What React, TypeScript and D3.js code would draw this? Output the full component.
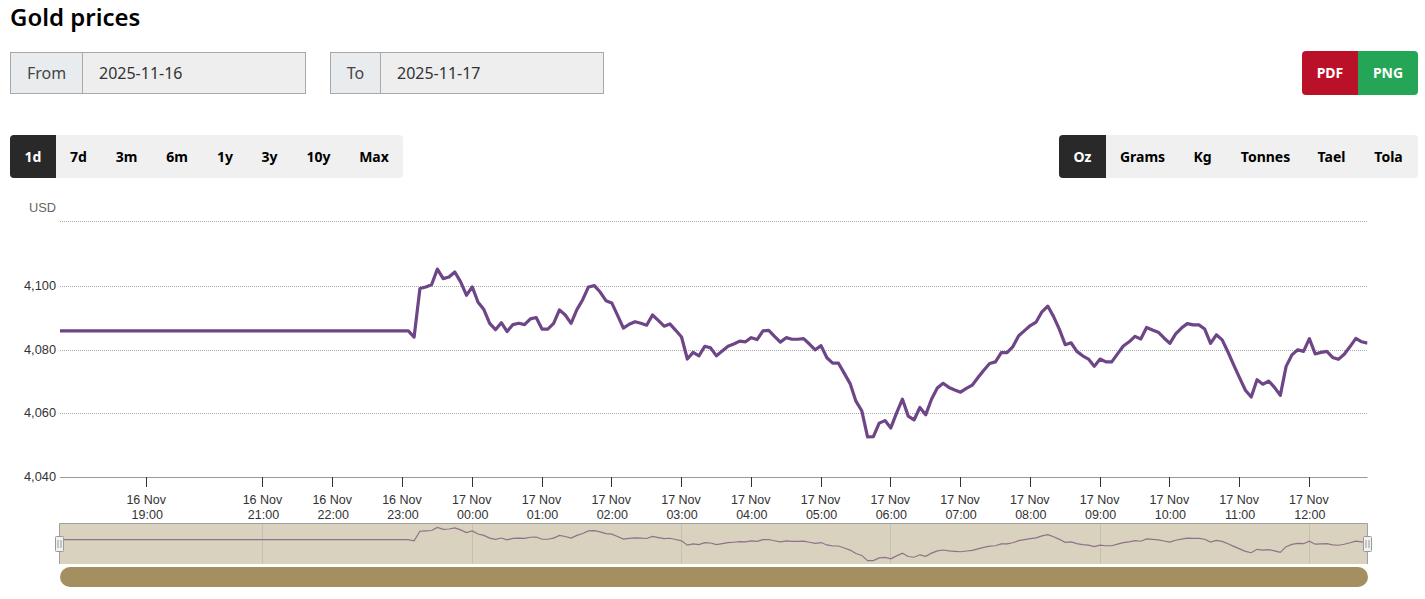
import React from "react";
import * as d3 from "d3";

const W = 1425, H = 599;
const UI_FONT = "'Noto Sans', sans-serif";
const CHART_FONT = "'Liberation Sans', Arial, sans-serif";

// Trading sessions, in minutes after 16 Nov 00:00; the axis is ordinal, so gaps collapse.
const sessions: [number, number][] = [[1065, 1165], [1190, 2210]];
const times: number[] = sessions.flatMap(([a, b]) => d3.range(a, b + 1, 5));

const closedValues = [
  4086, 4086, 4086, 4086, 4086, 4086, 4086, 4086, 4086, 4086, 4086, 4086, 4086, 4086, 4086, 4086,
  4086, 4086, 4086, 4086, 4086, 4086, 4086, 4086, 4086, 4086, 4086, 4086, 4086, 4086, 4086, 4086,
  4086, 4086, 4086, 4086, 4086, 4086, 4086, 4086, 4086, 4086, 4086, 4086, 4086, 4086, 4086, 4086,
  4086, 4086, 4086, 4086, 4086, 4086, 4086, 4086, 4086, 4086, 4086, 4086, 4086,
];
const openValues = [
  4084.1, 4099.3, 4099.8, 4100.5, 4105.4, 4102.4, 4102.9, 4104.5, 4101.4, 4097.2,
  4099.8, 4095.0, 4092.7, 4088.4, 4086.4, 4088.6, 4085.8, 4088.0, 4088.4, 4088.0, 4089.8, 4090.2,
  4086.6, 4086.6, 4088.4, 4092.6, 4091.0, 4088.4, 4092.7, 4095.8, 4099.8, 4100.2, 4098.2, 4095.5,
  4094.8, 4090.9, 4086.9, 4088.1, 4088.9, 4088.4, 4087.8, 4091.0, 4089.3, 4087.5, 4088.2, 4086.2,
  4084.1, 4077.2, 4079.3, 4078.2, 4081.2, 4080.7, 4078.2, 4079.7, 4081.2, 4081.9, 4082.8, 4082.6,
  4083.9, 4083.3, 4086.0, 4086.2, 4084.3, 4082.5, 4083.9, 4083.4, 4083.4, 4083.6, 4081.9, 4080.1,
  4081.4, 4077.6, 4075.9, 4075.9, 4072.7, 4069.5, 4064.0, 4061.0, 4052.8, 4052.9, 4057.1, 4057.9,
  4055.6, 4060.3, 4064.6, 4059.3, 4058.1, 4062.0, 4059.7, 4064.6, 4068.1, 4069.6, 4068.3, 4067.5,
  4066.8, 4068.0, 4069.0, 4071.4, 4073.7, 4075.8, 4076.3, 4079.2, 4079.2, 4081.1, 4084.5, 4086.1,
  4087.7, 4088.8, 4092.0, 4093.8, 4090.5, 4086.5, 4081.7, 4082.3, 4079.6, 4078.2, 4077.2, 4074.9,
  4077.2, 4076.3, 4076.3, 4078.8, 4081.3, 4082.6, 4084.3, 4083.5, 4087.1, 4086.3, 4085.6, 4083.8,
  4082.1, 4085.1, 4086.9, 4088.3, 4087.9, 4087.9, 4086.6, 4082.1, 4084.8, 4083.2, 4079.4, 4075.3,
  4071.3, 4067.4, 4065.3, 4070.7, 4069.3, 4070.3, 4068.3, 4065.8, 4074.9, 4078.5, 4080.1, 4079.6,
  4083.6, 4078.8, 4079.3, 4079.6, 4077.7, 4077.1, 4078.7, 4081.1, 4083.7, 4082.6, 4082.2,
];
const prices = [...closedValues, ...openValues];

const yGrid = [4060, 4080, 4100];
const yTopGrid = 4120;
const yLabels = [4040, 4060, 4080, 4100];
const xTickTimes = [1140, 1260, 1320, 1380, 1440, 1500, 1560, 1620, 1680, 1740, 1800, 1860, 1920, 1980, 2040, 2100, 2160];
const navTickTimes = [1260, 1440, 1620, 1800, 1980, 2160];
const rangeButtons = ["1d", "7d", "3m", "6m", "1y", "3y", "10y", "Max"];
const unitButtons = ["Oz", "Grams", "Kg", "Tonnes", "Tael", "Tola"];

const x = d3.scalePoint<number>().domain(times).range([59.5, 1367.5]);
const y = d3.scaleLinear().domain([4040, 4120]).range([477.7, 222.5]);
const yNav = d3.scaleLinear().domain([4052.8, 4105.4]).range([560.6, 527.4]);
const snap = (v: number) => Math.floor(v) + 0.5;

const points = times.map((t, i) => ({ t, v: prices[i] }));
const mainLine = d3.line<{ t: number; v: number }>().x(d => x(d.t)!).y(d => y(d.v));
const navLine = d3.line<{ t: number; v: number }>().x(d => x(d.t)!).y(d => yNav(d.v));

const dayLabel = (t: number) => (t < 1440 ? "16 Nov" : "17 Nov");
const hourLabel = (t: number) => d3.format("02")(Math.floor(t / 60) % 24) + ":" + d3.format("02")(t % 60);

const rangeCenters = d3.scaleOrdinal<string, number>().domain(rangeButtons).range([33, 78.5, 126.5, 177, 225, 269.5, 318.5, 374]);
const unitCenters = d3.scaleOrdinal<string, number>().domain(unitButtons).range([1082.5, 1142.5, 1202.5, 1265.5, 1331.5, 1388.5]);

function leftRound(x0: number, y0: number, w: number, h: number, r: number) {
  return `M${x0 + r},${y0}H${x0 + w}V${y0 + h}H${x0 + r}Q${x0},${y0 + h} ${x0},${y0 + h - r}V${y0 + r}Q${x0},${y0} ${x0 + r},${y0}Z`;
}
function rightRound(x0: number, y0: number, w: number, h: number, r: number) {
  return `M${x0},${y0}H${x0 + w - r}Q${x0 + w},${y0} ${x0 + w},${y0 + r}V${y0 + h - r}Q${x0 + w},${y0 + h} ${x0 + w - r},${y0 + h}H${x0}Z`;
}

function DateBox({ x0, w, split, label, value }: { x0: number; w: number; split: number; label: string; value: string }) {
  return (
    <g fontFamily={UI_FONT} fontSize={16} fill="#444">
      <rect x={x0 + 0.5} y={52.5} width={w} height={41} fill="#eeeeee" stroke="#a8a8a8" />
      <rect x={x0 + 0.5} y={52.5} width={split} height={41} fill="#e9ecef" stroke="#a8a8a8" />
      <text x={x0 + split / 2 + 0.5} y={78.5} textAnchor="middle">{label}</text>
      <text x={x0 + split + 17} y={78.5} fill="#333">{value}</text>
    </g>
  );
}

function Handle({ cx }: { cx: number }) {
  return (
    <g>
      <rect x={cx - 4} y={536.5} width={8} height={15} rx={1} fill="#f2f2f2" stroke="#999" />
      <line x1={cx - 1.5} x2={cx - 1.5} y1={540} y2={548} stroke="#999" />
      <line x1={cx + 1.5} x2={cx + 1.5} y1={540} y2={548} stroke="#999" />
    </g>
  );
}

export default function App() {
  return (
    <svg width={W} height={H} viewBox={`0 0 ${W} ${H}`} style={{ position: "absolute", left: 0, top: 0, display: "block", background: "#fff" }}>
      <defs>
        <clipPath id="plot"><rect x={60} y={200} width={1307.5} height={280} /></clipPath>
      </defs>
      <text x={10} y={26} fontFamily={UI_FONT} fontSize={24} fontWeight={600} fill="#000">Gold prices</text>

      <DateBox x0={10} w={295} split={72} label="From" value="2025-11-16" />
      <DateBox x0={330} w={273} split={50} label="To" value="2025-11-17" />

      <path d={leftRound(1302, 51, 56, 44, 4)} fill="#bb1128" />
      <path d={rightRound(1358, 51, 60, 44, 4)} fill="#25a556" />
      <g fontFamily={UI_FONT} fontSize={14} fontWeight={700} fill="#fff" textAnchor="middle">
        <text x={1330} y={78}>PDF</text>
        <text x={1388} y={78}>PNG</text>
      </g>

      <rect x={10} y={135} width={393} height={43} rx={4} fill="#f0f0f0" />
      <path d={leftRound(10, 135, 46, 43, 4)} fill="#292929" />
      <g fontFamily={UI_FONT} fontSize={14} fontWeight={700} textAnchor="middle">
        {rangeButtons.map((b, i) => (
          <text key={b} x={rangeCenters(b)} y={162} fill={i === 0 ? "#fff" : "#000"}>{b}</text>
        ))}
      </g>

      <rect x={1059} y={135} width={359} height={43} rx={4} fill="#f0f0f0" />
      <path d={leftRound(1059, 135, 47, 43, 4)} fill="#292929" />
      <g fontFamily={UI_FONT} fontSize={14} fontWeight={700} textAnchor="middle">
        {unitButtons.map((b, i) => (
          <text key={b} x={unitCenters(b)} y={162} fill={i === 0 ? "#fff" : "#000"}>{b}</text>
        ))}
      </g>

      <g fontFamily={CHART_FONT}>
        <text x={56} y={212} fontSize={12.8} textAnchor="end" fill="#666">USD</text>
        {yGrid.map(v => (
          <line key={v} x1={60} x2={1367} y1={snap(y(v))} y2={snap(y(v))} stroke="#aaa" strokeWidth={1} strokeDasharray="1 1" />
        ))}
        <line x1={60} x2={1367} y1={snap(y(yTopGrid)) - 1} y2={snap(y(yTopGrid)) - 1} stroke="#aaa" strokeWidth={1} strokeDasharray="1 1" />
        {yLabels.map(v => (
          <text key={v} x={56} y={y(v) + 3.5} fontSize={12.8} textAnchor="end" fill="#333">{d3.format(",")(v)}</text>
        ))}
        <line x1={60} x2={1367.5} y1={477.5} y2={477.5} stroke="#999" />
        {xTickTimes.map(t => (
          <g key={t} textAnchor="middle" fill="#333" fontSize={12.5}>
            <line x1={snap(x(t)!)} x2={snap(x(t)!)} y1={477} y2={487} stroke="#333" />
            <text x={x(t)! - 0.5} y={503.5}>{dayLabel(t)}</text>
            <text x={x(t)! + 0.5} y={519}>{hourLabel(t)}</text>
          </g>
        ))}
      </g>

      <path d={mainLine(points)!} fill="none" stroke="#6e4586" strokeWidth={3.2} strokeLinejoin="round" clipPath="url(#plot)" />

      <rect x={59.5} y={523.5} width={1308} height={40.5} fill="#d9d2bf" />
      {navTickTimes.map(t => (
        <line key={t} x1={snap(x(t)!)} x2={snap(x(t)!)} y1={524} y2={564} stroke="#c6c0ae" />
      ))}
      <path d={navLine(points)!} fill="none" stroke="#8d7389" strokeWidth={1.2} />
      <path d="M59.5,564V523.5H1367.5V564" fill="none" stroke="#a0a0a0" />
      <Handle cx={59.5} />
      <Handle cx={1367.5} />

      <rect x={60} y={567} width={1308} height={20} rx={10} fill="#a38f5f" />
    </svg>
  );
}
